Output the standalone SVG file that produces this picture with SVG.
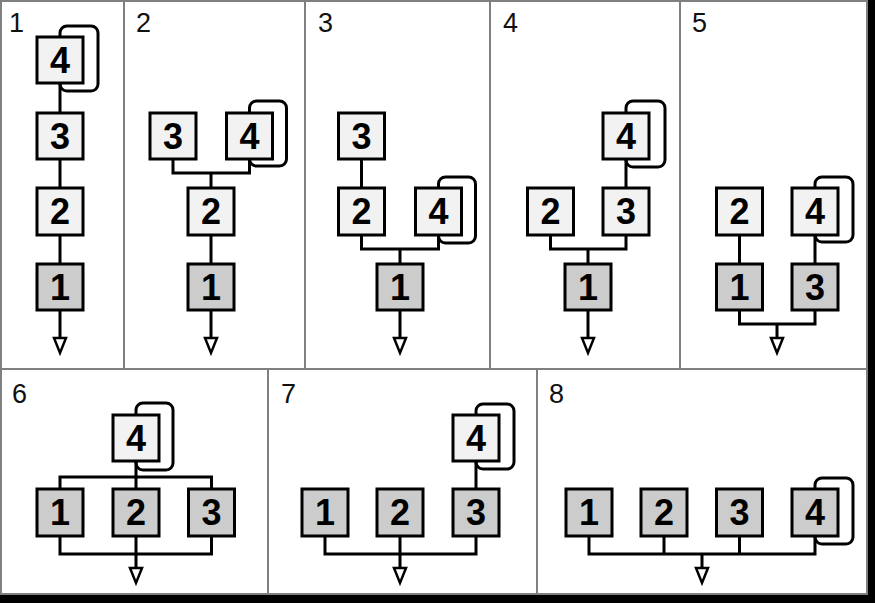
<svg xmlns="http://www.w3.org/2000/svg" width="875" height="603" viewBox="0 0 875 603">
<style>
.panel{fill:#ffffff;stroke:#808080;stroke-width:2}
.bl{fill:#f2f2f2;stroke:#000;stroke-width:3}
.bd{fill:#cccccc;stroke:#000;stroke-width:3}
.num{font-family:"Liberation Sans",Arial,sans-serif;font-weight:bold;font-size:36px;text-anchor:middle;fill:#000}
.lab{font-family:"Liberation Sans",Arial,sans-serif;font-size:27px;fill:#111}
.c{fill:none;stroke:#000;stroke-width:3}
.loop{fill:none;stroke:#000;stroke-width:3}
.tri{fill:#fff;stroke:#000;stroke-width:2.5;stroke-linejoin:miter}
</style>
<rect x="0" y="0" width="875" height="603" fill="#ffffff"/>
<rect x="868" y="0" width="7" height="603" fill="#000"/>
<rect x="0" y="595" width="875" height="8" fill="#000"/>
<g id="panels">
<rect class="panel" x="1" y="1" width="123" height="368"/>
<rect class="panel" x="124" y="1" width="181" height="368"/>
<rect class="panel" x="305" y="1" width="185" height="368"/>
<rect class="panel" x="490" y="1" width="190" height="368"/>
<rect class="panel" x="680" y="1" width="187" height="368"/>
<rect class="panel" x="1" y="369" width="267" height="225"/>
<rect class="panel" x="268" y="369" width="269" height="225"/>
<rect class="panel" x="537" y="369" width="330" height="225"/>
</g>
<g id="labels">
<text class="lab" x="9" y="32">1</text>
<text class="lab" x="136" y="32">2</text>
<text class="lab" x="318" y="32">3</text>
<text class="lab" x="503" y="32">4</text>
<text class="lab" x="692" y="32">5</text>
<text class="lab" x="12" y="403">6</text>
<text class="lab" x="281" y="403">7</text>
<text class="lab" x="549" y="403">8</text>
</g>
<g id="connectors">
<!-- panel 1 -->
<rect class="loop" x="60" y="26" width="38" height="65" rx="7"/>
<path class="c" d="M60,83 V338"/>
<polygon class="tri" points="54,338 66,338 60,353"/>
<!-- panel 2 -->
<rect class="loop" x="249.5" y="101" width="37" height="65" rx="7"/>
<path class="c" d="M173,159 V173 H249.5 V159 M211,173 V338"/>
<polygon class="tri" points="205,338 217,338 211,353"/>
<!-- panel 3 -->
<rect class="loop" x="438.5" y="177" width="37" height="66" rx="7"/>
<path class="c" d="M361.5,159 V188 M361.5,235 V249 H438.5 V235 M400,249 V338"/>
<polygon class="tri" points="394,338 406,338 400,353"/>
<!-- panel 4 -->
<rect class="loop" x="626" y="101" width="39" height="66" rx="7"/>
<path class="c" d="M626,159 V188 M550.5,235 V249 H626 V235 M588,249 V338"/>
<polygon class="tri" points="582,338 594,338 588,353"/>
<!-- panel 5 -->
<rect class="loop" x="815" y="177" width="38" height="65" rx="7"/>
<path class="c" d="M739.5,235 V264 M815,235 V264 M739.5,310 V324 H815 V310 M777,324 V338"/>
<polygon class="tri" points="771,338 783,338 777,353"/>
<!-- panel 6 -->
<rect class="loop" x="136" y="403" width="37" height="67" rx="7"/>
<path class="c" d="M60,489 V477 H211.5 V489 M136,461 V568 M60,536 V554 H211.5 V536"/>
<polygon class="tri" points="130,568 142,568 136,583"/>
<!-- panel 7 -->
<rect class="loop" x="476" y="404" width="38" height="65" rx="7"/>
<path class="c" d="M476,461 V489 M325,536 V554 H476 V536 M400,536 V568"/>
<polygon class="tri" points="394,568 406,568 400,583"/>
<!-- panel 8 -->
<rect class="loop" x="815" y="478" width="38" height="66" rx="7"/>
<path class="c" d="M589,536 V554 H815 V536 M664,536 V554 M739.5,536 V554 M702,554 V568"/>
<polygon class="tri" points="696,568 708,568 702,583"/>
</g>
<g id="p1-n4"><rect class="bl" x="37" y="37" width="46" height="46"/><text class="num" x="60" y="73">4</text></g>
<g id="p1-n3"><rect class="bl" x="37" y="113" width="46" height="46"/><text class="num" x="60" y="149">3</text></g>
<g id="p1-n2"><rect class="bl" x="37" y="188" width="46" height="47"/><text class="num" x="60" y="224">2</text></g>
<g id="p1-n1"><rect class="bd" x="37" y="264" width="46" height="46"/><text class="num" x="60" y="300">1</text></g>

<g id="p2-n3"><rect class="bl" x="150" y="113" width="46" height="46"/><text class="num" x="173" y="149">3</text></g>
<g id="p2-n4"><rect class="bl" x="226.5" y="113" width="46" height="46"/><text class="num" x="249.5" y="149">4</text></g>
<g id="p2-n2"><rect class="bl" x="188" y="188" width="46" height="47"/><text class="num" x="211" y="224">2</text></g>
<g id="p2-n1"><rect class="bd" x="188" y="264" width="46" height="46"/><text class="num" x="211" y="300">1</text></g>

<g id="p3-n3"><rect class="bl" x="338.5" y="113" width="46" height="46"/><text class="num" x="361.5" y="149">3</text></g>
<g id="p3-n2"><rect class="bl" x="338.5" y="188" width="46" height="47"/><text class="num" x="361.5" y="224">2</text></g>
<g id="p3-n4"><rect class="bl" x="415.5" y="188" width="46" height="47"/><text class="num" x="438.5" y="224">4</text></g>
<g id="p3-n1"><rect class="bd" x="377" y="264" width="46" height="46"/><text class="num" x="400" y="300">1</text></g>

<g id="p4-n4"><rect class="bl" x="603" y="113" width="46" height="46"/><text class="num" x="626" y="149">4</text></g>
<g id="p4-n2"><rect class="bl" x="527.5" y="188" width="46" height="47"/><text class="num" x="550.5" y="224">2</text></g>
<g id="p4-n3"><rect class="bl" x="603" y="188" width="46" height="47"/><text class="num" x="626" y="224">3</text></g>
<g id="p4-n1"><rect class="bd" x="565" y="264" width="46" height="46"/><text class="num" x="588" y="300">1</text></g>

<g id="p5-n2"><rect class="bl" x="716.5" y="188" width="46" height="47"/><text class="num" x="739.5" y="224">2</text></g>
<g id="p5-n4"><rect class="bl" x="792" y="188" width="46" height="47"/><text class="num" x="815" y="224">4</text></g>
<g id="p5-n1"><rect class="bd" x="716.5" y="264" width="46" height="46"/><text class="num" x="739.5" y="300">1</text></g>
<g id="p5-n3"><rect class="bd" x="792" y="264" width="46" height="46"/><text class="num" x="815" y="300">3</text></g>

<g id="p6-n4"><rect class="bl" x="113" y="415" width="46" height="46"/><text class="num" x="136" y="451">4</text></g>
<g id="p6-n1"><rect class="bd" x="37" y="489" width="46" height="47"/><text class="num" x="60" y="525">1</text></g>
<g id="p6-n2"><rect class="bd" x="113" y="489" width="46" height="47"/><text class="num" x="136" y="525">2</text></g>
<g id="p6-n3"><rect class="bd" x="188.5" y="489" width="46" height="47"/><text class="num" x="211.5" y="525">3</text></g>

<g id="p7-n4"><rect class="bl" x="453" y="415" width="46" height="46"/><text class="num" x="476" y="451">4</text></g>
<g id="p7-n1"><rect class="bd" x="302" y="489" width="46" height="47"/><text class="num" x="325" y="525">1</text></g>
<g id="p7-n2"><rect class="bd" x="377" y="489" width="46" height="47"/><text class="num" x="400" y="525">2</text></g>
<g id="p7-n3"><rect class="bd" x="453" y="489" width="46" height="47"/><text class="num" x="476" y="525">3</text></g>

<g id="p8-n1"><rect class="bd" x="566" y="489" width="46" height="47"/><text class="num" x="589" y="525">1</text></g>
<g id="p8-n2"><rect class="bd" x="641" y="489" width="46" height="47"/><text class="num" x="664" y="525">2</text></g>
<g id="p8-n3"><rect class="bd" x="716.5" y="489" width="46" height="47"/><text class="num" x="739.5" y="525">3</text></g>
<g id="p8-n4"><rect class="bd" x="792" y="489" width="46" height="47"/><text class="num" x="815" y="525">4</text></g>
</svg>
